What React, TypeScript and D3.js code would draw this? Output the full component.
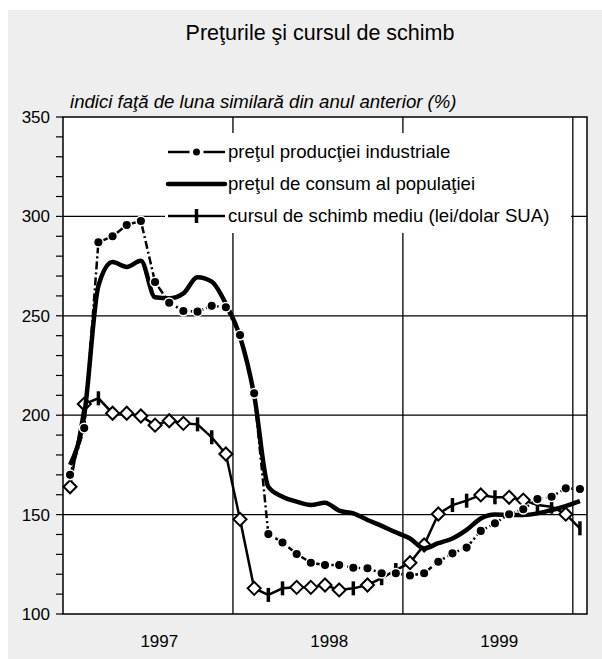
import React from "react";
import * as d3 from "d3";

// months: 0 = Jan 1997 ... 36 = Jan 2000
const producerPrices = [170, 193.5, 287, 290, 295.7, 297.7, 267, 256.6, 252.4, 252.1, 255, 254.3, 240.3, 211, 140.2, 136, 130.2, 125.8, 124.6, 124.6, 123.3, 123, 120.5, 120.5, 119.4, 120.5, 126.3, 130.5, 133.4, 141.8, 145.6, 150.2, 152.7, 157.8, 159, 163.2, 162.9];
const consumerPrices = [175, 200, 265, 277, 274.6, 277.7, 259.3, 258.8, 261.3, 269.4, 267.2, 256, 239.5, 210, 164, 159, 156.5, 154.8, 156, 152, 150.6, 147.3, 144.3, 141.1, 138, 133, 135.6, 138, 142.3, 148, 150, 149.8, 149.8, 150.6, 152.3, 154.3, 156.8];
const exchangeRate = [164, 205.6, 208.5, 201, 201, 199.6, 195, 197.2, 195.9, 195.4, 188.9, 180.5, 147.6, 112.9, 109.6, 112.9, 113.4, 113.4, 114.6, 112.1, 112.9, 114.6, 118, 122.1, 125.8, 134.7, 150.3, 154.8, 157, 159.9, 158.7, 158.7, 157.3, 154.8, 154, 150.2, 143.1];
const rateBarMonths = [2, 9, 10, 14, 15, 20, 22, 23, 27, 28, 30, 33, 34, 36];
const years = ["1997", "1998", "1999"];
const yTicks = [100, 150, 200, 250, 300, 350];
const yGrid = [150, 200, 250, 300];
const yearBoundaries = [11.5, 23.5, 35.5];
const legendLabels = [
  "preţul producţiei industriale",
  "preţul de consum al populaţiei",
  "cursul de schimb mediu (lei/dolar SUA)",
];
const title = "Preţurile şi cursul de schimb";
const subtitle = "indici faţă de luna similară din anul anterior (%)";

const FONT = "'Liberation Sans', Arial, Helvetica, sans-serif";

export default function App() {
  const W = 602, H = 659;
  const left = 63, right = 587, top = 117, bottom = 614;
  const x = d3.scaleLinear().domain([-0.5, 36.5]).range([left, right]);
  const y = d3.scaleLinear().domain([100, 350]).range([bottom, top]);
  const idx = d3.range(37);

  const lineLinear = (vals: number[]) =>
    d3.line<number>().x((_, i) => x(i)).y((d) => y(d))(vals) || "";
  const lineSmooth = (vals: number[]) =>
    d3.line<number>().x((_, i) => x(i)).y((d) => y(d)).curve(d3.curveMonotoneX)(vals) || "";

  const minorTicks = d3.range(100, 351, 10);
  const diamond = (cx: number, cy: number, r: number) =>
    `M${cx},${cy - r}L${cx + r},${cy}L${cx},${cy + r}L${cx - r},${cy}Z`;

  const legX1 = 168, legX2 = 225, legTextX = 228;
  const legMid = (legX1 + legX2) / 2;
  const legY = [152, 184, 216];

  return (
    <svg width={W} height={H} style={{ position: "absolute", left: 0, top: 0 }} fontFamily={FONT}>
      <rect x={8} y={10} width={W - 8} height={H - 10} fill="#eeeeee" />
      <text x={320} y={40} textAnchor="middle" fontSize={21.5} fill="#000">{title}</text>
      <text x={70} y={108} fontSize={18.6} fontStyle="italic" fill="#000">{subtitle}</text>

      <rect x={left} y={top} width={right - left} height={bottom - top} fill="#fff" />
      {yGrid.map((v) => (
        <line key={v} x1={left} x2={right} y1={y(v)} y2={y(v)} stroke="#000" strokeWidth={1.3} />
      ))}
      {yearBoundaries.map((m) => (
        <line key={m} x1={x(m)} x2={x(m)} y1={top} y2={bottom} stroke="#000" strokeWidth={1.3} />
      ))}
      {/* legend background */}
      <rect x={165} y={133} width={406} height={100} fill="#fff" />

      {/* axis frame */}
      <rect x={left} y={top} width={right - left} height={bottom - top} fill="none" stroke="#000" strokeWidth={1.5} />
      {minorTicks.map((v) => (
        <line key={v} x1={left - 7} x2={left} y1={y(v)} y2={y(v)} stroke="#000" strokeWidth={1.2} />
      ))}
      {yTicks.map((v) => (
        <text key={v} x={50} y={y(v) + 6} textAnchor="end" fontSize={17} fill="#000">{v}</text>
      ))}
      {years.map((yr, i) => (
        <text key={yr} x={x(6.3 + 12 * i)} y={647} textAnchor="middle" fontSize={17} fill="#000">{yr}</text>
      ))}

      {/* exchange rate */}
      <path d={lineLinear(exchangeRate)} fill="none" stroke="#000" strokeWidth={2.5} />
      {idx.map((i) =>
        rateBarMonths.includes(i) ? (
          <line key={i} x1={x(i)} x2={x(i)} y1={y(exchangeRate[i]) - 7} y2={y(exchangeRate[i]) + 7} stroke="#000" strokeWidth={3.5} />
        ) : (
          <path key={i} d={diamond(x(i), y(exchangeRate[i]), 6.5)} fill="#fff" stroke="#000" strokeWidth={2} />
        )
      )}

      {/* consumer prices */}
      <path d={lineSmooth(consumerPrices)} fill="none" stroke="#000" strokeWidth={4.5} strokeLinejoin="round" />

      {/* producer prices */}
      <path d={lineLinear(producerPrices)} fill="none" stroke="#000" strokeWidth={2.5} strokeDasharray="8,3,2,3" />
      {idx.map((i) => (
        <circle key={i} cx={x(i)} cy={y(producerPrices[i])} r={4.8} fill="#000" stroke="#fff" strokeWidth={1.5} />
      ))}

      {/* legend */}
      <line x1={legX1} x2={legMid - 7} y1={legY[0]} y2={legY[0]} stroke="#000" strokeWidth={2.5} />
      <line x1={legMid + 7} x2={legX2} y1={legY[0]} y2={legY[0]} stroke="#000" strokeWidth={2.5} />
      <circle cx={legMid} cy={legY[0]} r={3.5} fill="#000" />
      <line x1={legX1} x2={legX2} y1={legY[1]} y2={legY[1]} stroke="#000" strokeWidth={4.5} strokeLinecap="round" />
      <line x1={legX1} x2={legX2} y1={legY[2]} y2={legY[2]} stroke="#000" strokeWidth={2.5} />
      <line x1={legMid} x2={legMid} y1={legY[2] - 7} y2={legY[2] + 7} stroke="#000" strokeWidth={3.5} />
      {legendLabels.map((t, i) => (
        <text key={t} x={legTextX} y={legY[i] + 6} fontSize={18.6} fill="#000">{t}</text>
      ))}
    </svg>
  );
}
